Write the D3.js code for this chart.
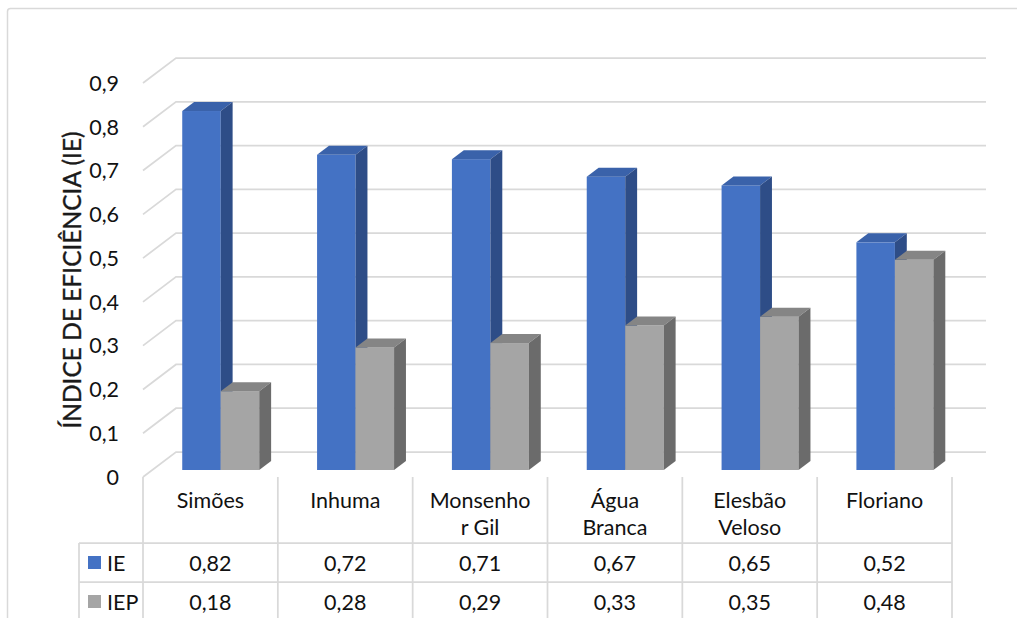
<!DOCTYPE html>
<html>
<head>
<meta charset="utf-8">
<script src="https://cdn.jsdelivr.net/npm/d3@7"></script>
<style>
  html, body { margin: 0; padding: 0; background: #fff; }
  svg { display: block; font-family: Lato, "Open Sans", sans-serif; }
</style>
</head>
<body>
<svg id="chart" width="1017" height="618"></svg>
<script>
// Municipalities (label lines as shown in the data table header)
const categories = ["Simões", "Inhuma", "Monsenhor Gil", "Água Branca", "Elesbão Veloso", "Floriano"];
const categoryLines = [["Simões"], ["Inhuma"], ["Monsenho", "r Gil"], ["Água", "Branca"], ["Elesbão", "Veloso"], ["Floriano"]];
const seriesNames = ["IE", "IEP"];
const ieValues = [0.82, 0.72, 0.71, 0.67, 0.65, 0.52];
const iepValues = [0.18, 0.28, 0.29, 0.33, 0.35, 0.48];
const tickValues = [0, 0.1, 0.2, 0.3, 0.4, 0.5, 0.6, 0.7, 0.8, 0.9];
const yTitle = "ÍNDICE DE EFICIÊNCIA (IE)";

const fmt = v => v === 0 ? "0" : d3.format(".2~f")(v).replace(".", ",");

const svg = d3.select("#chart");
const W = 1017, H = 618;

// colours: front / top / side faces
const palette = {
  IE:  { front: "#4472C4", top: "#3A62AA", side: "#2E4D87" },
  IEP: { front: "#A5A5A5", top: "#858585", side: "#6B6B6B" }
};
const gridColor = "#D9D9D9";

// chart frame
svg.append("rect")
  .attr("x", 7.5).attr("y", 8.5)
  .attr("width", W + 10).attr("height", H + 10)
  .attr("rx", 3)
  .attr("fill", "none").attr("stroke", gridColor).attr("stroke-width", 1.5);

// 3D geometry: depth offset of the back wall
const depthX = 33, depthY = 25;
const plotLeft = 143, tableRight = 952, wallRight = 986;

const x = d3.scaleBand().domain(categories).range([plotLeft, tableRight]).padding(0);
const xs = d3.scaleBand().domain(seriesNames).range([30, 107]).padding(0);
const y = d3.scaleLinear().domain([0, 0.9]).range([477, 83]);

// gridlines: short diagonal on the side floor/wall, then along the back wall
const grid = svg.append("g");
tickValues.forEach(t => {
  const yf = y(t), yb = yf - depthY;
  grid.append("path")
    .attr("d", `M${plotLeft},${yf}L${plotLeft + depthX},${yb}L${wallRight},${yb}`)
    .attr("fill", "none").attr("stroke", gridColor).attr("stroke-width", 1.75);
});

// tick labels
svg.append("g").selectAll("text").data(tickValues).join("text")
  .attr("x", 119).attr("y", d => y(d))
  .attr("dy", "0.36em")
  .attr("text-anchor", "end")
  .attr("font-size", 21.5).attr("fill", "#111")
  .text(fmt);

// axis title
svg.append("text")
  .attr("transform", `translate(81,280) rotate(-90)`)
  .attr("text-anchor", "middle")
  .attr("font-size", 24.5).attr("fill", "#1a1a1a")
  .attr("stroke", "#1a1a1a").attr("stroke-width", 0.35)
  .text(yTitle);

// bars: placed at a fraction of the depth, with a short 3D extrusion
const barDepthStart = 0.28, barDepthEnd = 0.64;
const bx0 = depthX * barDepthStart, by0 = depthY * barDepthStart;
const bdx = depthX * (barDepthEnd - barDepthStart), bdy = depthY * (barDepthEnd - barDepthStart);

const rows = categories.map((c, i) => ({ cat: c, IE: ieValues[i], IEP: iepValues[i] }));
const bars = svg.append("g");
rows.forEach(r => {
  seriesNames.forEach(s => {
    const col = palette[s];
    const x0 = x(r.cat) + xs(s) + bx0, x1 = x0 + xs.bandwidth();
    const yb = y(0) - by0, yt = y(r[s]) - by0;
    const g = bars.append("g");
    g.append("rect").attr("x", x0).attr("y", yt).attr("width", x1 - x0).attr("height", yb - yt).attr("fill", col.front);
    g.append("path")
      .attr("d", `M${x0},${yt}L${x1},${yt}L${x1 + bdx},${yt - bdy}L${x0 + bdx},${yt - bdy}Z`)
      .attr("fill", col.top);
    g.append("path")
      .attr("d", `M${x1},${yt}L${x1 + bdx},${yt - bdy}L${x1 + bdx},${yb - bdy}L${x1},${yb}Z`)
      .attr("fill", col.side);
  });
});

// data table
const tableTop = 477, row1 = 543, row2 = 582, legendLeft = 79;
const table = svg.append("g").attr("stroke", gridColor).attr("stroke-width", 1.75);
x.domain().concat([null]).forEach((c, i) => {
  const xx = c === null ? tableRight : x(c);
  table.append("line").attr("x1", xx).attr("x2", xx).attr("y1", tableTop).attr("y2", H);
});
table.append("line").attr("x1", legendLeft).attr("x2", legendLeft).attr("y1", row1).attr("y2", H);
[row1, row2].forEach(yy => {
  table.append("line").attr("x1", legendLeft).attr("x2", tableRight).attr("y1", yy).attr("y2", yy);
});

// category headers
const headers = svg.append("g");
categories.forEach((c, i) => {
  const t = headers.append("text")
    .attr("x", x(c) + x.bandwidth() / 2).attr("y", 508)
    .attr("text-anchor", "middle").attr("font-size", 21.5).attr("fill", "#111");
  categoryLines[i].forEach((ln, k) => {
    t.append("tspan").attr("x", x(c) + x.bandwidth() / 2).attr("dy", k === 0 ? 0 : 27).text(ln);
  });
});

// legend keys and values
const seriesRows = [
  { name: "IE", values: ieValues, base: row1 },
  { name: "IEP", values: iepValues, base: row2 }
];
seriesRows.forEach(sr => {
  svg.append("rect")
    .attr("x", 88).attr("y", sr.base + 13).attr("width", 13).attr("height", 13)
    .attr("fill", palette[sr.name].front);
  svg.append("text")
    .attr("x", 107).attr("y", sr.base + 28)
    .attr("font-size", 21.5).attr("fill", "#111").text(sr.name);
  sr.values.forEach((v, i) => {
    svg.append("text")
      .attr("x", x(categories[i]) + x.bandwidth() / 2).attr("y", sr.base + 28)
      .attr("text-anchor", "middle").attr("font-size", 21.5).attr("fill", "#111")
      .text(fmt(v));
  });
});
</script>
</body>
</html>
